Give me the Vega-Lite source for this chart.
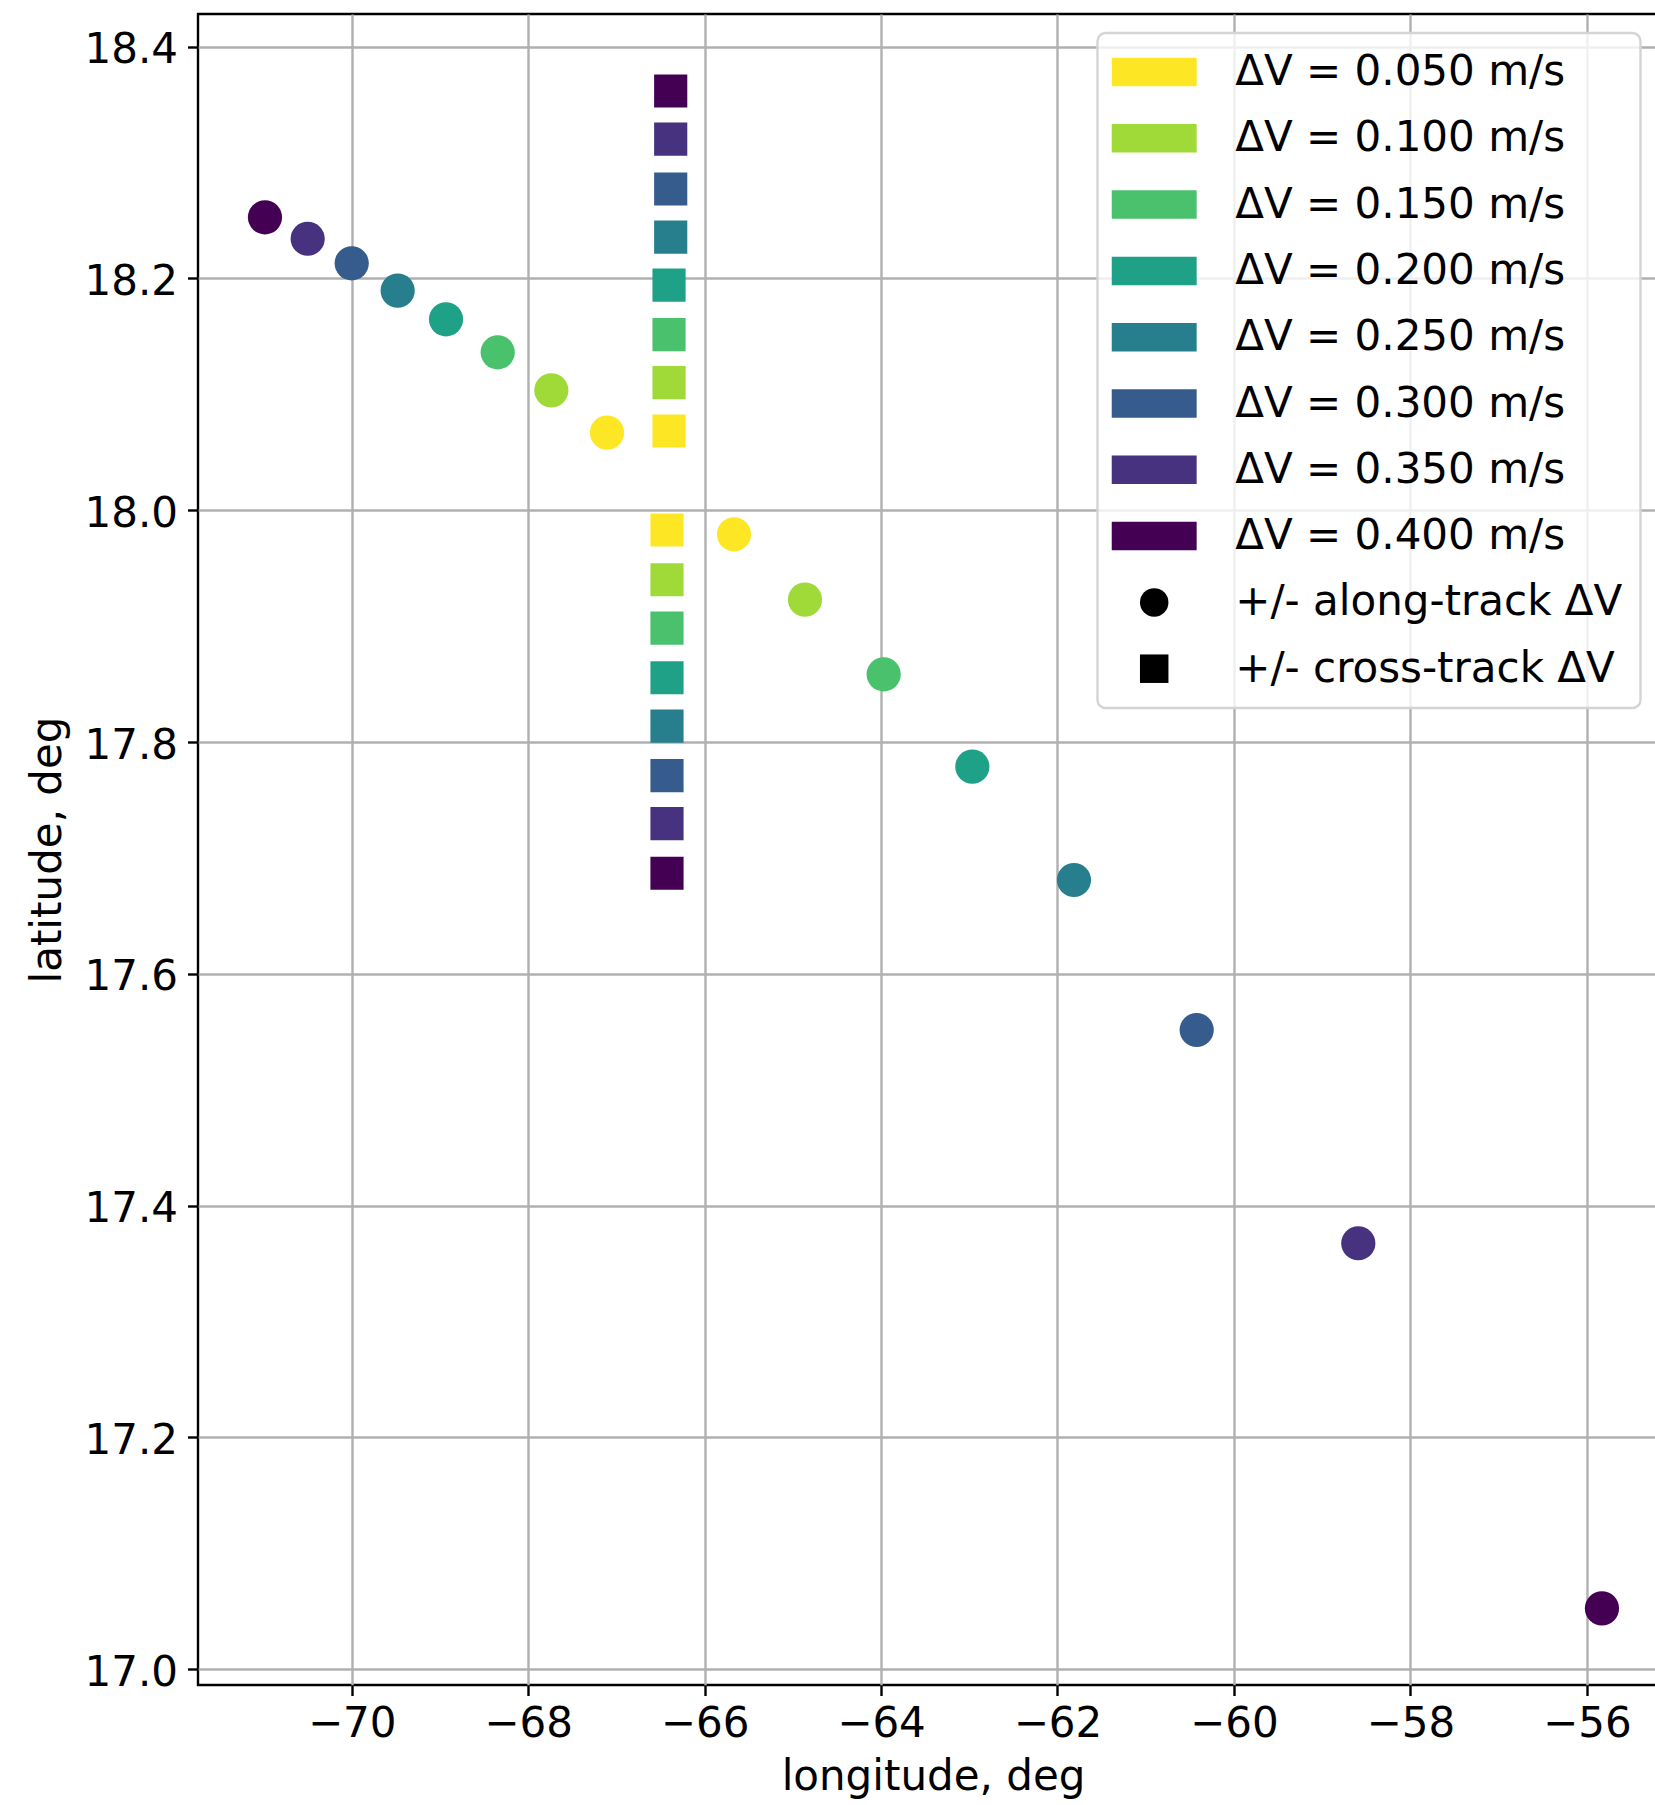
{
  "$schema": "https://vega.github.io/schema/vega-lite/v6.json",
  "autosize": {"type": "none"},
  "padding": {"left": 198, "top": 14, "right": -13, "bottom": 120},
  "width": 1470,
  "height": 1671,
  "background": "white",
  "config": {
    "font": "DejaVu Sans",
    "view": {"stroke": "black", "strokeWidth": 2.4},
    "axis": {
      "domain": false,
      "grid": true,
      "gridColor": "#b0b0b0",
      "gridWidth": 2.4,
      "ticks": true,
      "tickColor": "black",
      "tickWidth": 2.4,
      "tickSize": 10.5,
      "labelFont": "DejaVu Sans",
      "labelFontSize": 42,
      "labelColor": "black",
      "titleFont": "DejaVu Sans",
      "titleFontSize": 42,
      "titleFontWeight": "normal",
      "titleColor": "black"
    },
    "legend": {
      "orient": "none",
      "legendX": 899.5,
      "legendY": 19,
      "padding": 18,
      "rowPadding": 24.3,
      "symbolSize": 812.25,
      "symbolOffset": 17.7,
      "symbolStrokeWidth": 0,
      "symbolOpacity": 1,
      "labelOffset": 60,
      "labelFont": "DejaVu Sans",
      "labelFontSize": 42,
      "labelColor": "black",
      "labelLimit": 1000,
      "fillColor": "rgba(255,255,255,0.8)",
      "strokeColor": "#d4d4d4",
      "strokeWidth": 2.4,
      "cornerRadius": 8
    }
  },
  "data": {
    "values": [
      {"kind": "+/- along-track ΔV", "dv": "ΔV = 0.400 m/s", "lon": -70.983, "lat": 18.2528},
      {"kind": "+/- along-track ΔV", "dv": "ΔV = 0.350 m/s", "lon": -70.499, "lat": 18.2343},
      {"kind": "+/- along-track ΔV", "dv": "ΔV = 0.300 m/s", "lon": -70.0, "lat": 18.2131},
      {"kind": "+/- along-track ΔV", "dv": "ΔV = 0.250 m/s", "lon": -69.479, "lat": 18.1895},
      {"kind": "+/- along-track ΔV", "dv": "ΔV = 0.200 m/s", "lon": -68.931, "lat": 18.1648},
      {"kind": "+/- along-track ΔV", "dv": "ΔV = 0.150 m/s", "lon": -68.345, "lat": 18.1363},
      {"kind": "+/- along-track ΔV", "dv": "ΔV = 0.100 m/s", "lon": -67.737, "lat": 18.1035},
      {"kind": "+/- along-track ΔV", "dv": "ΔV = 0.050 m/s", "lon": -67.106, "lat": 18.067},
      {"kind": "+/- along-track ΔV", "dv": "ΔV = 0.050 m/s", "lon": -65.667, "lat": 17.9793},
      {"kind": "+/- along-track ΔV", "dv": "ΔV = 0.100 m/s", "lon": -64.862, "lat": 17.9229},
      {"kind": "+/- along-track ΔV", "dv": "ΔV = 0.150 m/s", "lon": -63.97, "lat": 17.8585},
      {"kind": "+/- along-track ΔV", "dv": "ΔV = 0.200 m/s", "lon": -62.965, "lat": 17.7788},
      {"kind": "+/- along-track ΔV", "dv": "ΔV = 0.250 m/s", "lon": -61.813, "lat": 17.681},
      {"kind": "+/- along-track ΔV", "dv": "ΔV = 0.300 m/s", "lon": -60.422, "lat": 17.5516},
      {"kind": "+/- along-track ΔV", "dv": "ΔV = 0.350 m/s", "lon": -58.59, "lat": 17.3676},
      {"kind": "+/- along-track ΔV", "dv": "ΔV = 0.400 m/s", "lon": -55.828, "lat": 17.0526},
      {"kind": "+/- cross-track ΔV", "dv": "ΔV = 0.050 m/s", "lon": -66.403, "lat": 18.0684},
      {"kind": "+/- cross-track ΔV", "dv": "ΔV = 0.100 m/s", "lon": -66.403, "lat": 18.1102},
      {"kind": "+/- cross-track ΔV", "dv": "ΔV = 0.150 m/s", "lon": -66.403, "lat": 18.1516},
      {"kind": "+/- cross-track ΔV", "dv": "ΔV = 0.200 m/s", "lon": -66.403, "lat": 18.1943},
      {"kind": "+/- cross-track ΔV", "dv": "ΔV = 0.250 m/s", "lon": -66.384, "lat": 18.2357},
      {"kind": "+/- cross-track ΔV", "dv": "ΔV = 0.300 m/s", "lon": -66.384, "lat": 18.2772},
      {"kind": "+/- cross-track ΔV", "dv": "ΔV = 0.350 m/s", "lon": -66.384, "lat": 18.3203},
      {"kind": "+/- cross-track ΔV", "dv": "ΔV = 0.400 m/s", "lon": -66.384, "lat": 18.3618},
      {"kind": "+/- cross-track ΔV", "dv": "ΔV = 0.050 m/s", "lon": -66.426, "lat": 17.983},
      {"kind": "+/- cross-track ΔV", "dv": "ΔV = 0.100 m/s", "lon": -66.426, "lat": 17.9401},
      {"kind": "+/- cross-track ΔV", "dv": "ΔV = 0.150 m/s", "lon": -66.426, "lat": 17.8984},
      {"kind": "+/- cross-track ΔV", "dv": "ΔV = 0.200 m/s", "lon": -66.426, "lat": 17.8555},
      {"kind": "+/- cross-track ΔV", "dv": "ΔV = 0.250 m/s", "lon": -66.426, "lat": 17.8138},
      {"kind": "+/- cross-track ΔV", "dv": "ΔV = 0.300 m/s", "lon": -66.426, "lat": 17.771},
      {"kind": "+/- cross-track ΔV", "dv": "ΔV = 0.350 m/s", "lon": -66.426, "lat": 17.7296},
      {"kind": "+/- cross-track ΔV", "dv": "ΔV = 0.400 m/s", "lon": -66.426, "lat": 17.6868}
    ]
  },
  "encoding": {
    "x": {
      "field": "lon",
      "type": "quantitative",
      "title": "longitude, deg",
      "scale": {"domain": [-71.7422, -55.0794], "nice": false, "zero": false},
      "axis": {
        "values": [-70, -68, -66, -64, -62, -60, -58, -56],
        "format": "d",
        "labelPadding": 8,
        "titlePadding": 12
      }
    },
    "y": {
      "field": "lat",
      "type": "quantitative",
      "title": "latitude, deg",
      "scale": {"domain": [16.98645, 18.4282], "nice": false, "zero": false},
      "axis": {
        "values": [17.0, 17.2, 17.4, 17.6, 17.8, 18.0, 18.2, 18.4],
        "format": ".1f",
        "labelPadding": 10,
        "labelOffset": 3,
        "titlePadding": 14
      }
    },
    "color": {
      "field": "dv",
      "type": "nominal",
      "scale": {
        "domain": [
          "ΔV = 0.050 m/s", "ΔV = 0.100 m/s", "ΔV = 0.150 m/s", "ΔV = 0.200 m/s",
          "ΔV = 0.250 m/s", "ΔV = 0.300 m/s", "ΔV = 0.350 m/s", "ΔV = 0.400 m/s",
          "+/- along-track ΔV", "+/- cross-track ΔV"
        ],
        "range": [
          "#fde725", "#a0da39", "#4ac16d", "#1fa187",
          "#277f8e", "#365c8d", "#46327e", "#440154",
          "black", "black"
        ]
      },
      "legend": {"title": null}
    },
    "shape": {
      "field": "kind",
      "type": "nominal",
      "scale": {
        "domain": [
          "ΔV = 0.050 m/s", "ΔV = 0.100 m/s", "ΔV = 0.150 m/s", "ΔV = 0.200 m/s",
          "ΔV = 0.250 m/s", "ΔV = 0.300 m/s", "ΔV = 0.350 m/s", "ΔV = 0.400 m/s",
          "+/- along-track ΔV", "+/- cross-track ΔV"
        ],
        "range": [
          "M-2.98,-1H2.98V1H-2.98Z", "M-2.98,-1H2.98V1H-2.98Z",
          "M-2.98,-1H2.98V1H-2.98Z", "M-2.98,-1H2.98V1H-2.98Z",
          "M-2.98,-1H2.98V1H-2.98Z", "M-2.98,-1H2.98V1H-2.98Z",
          "M-2.98,-1H2.98V1H-2.98Z", "M-2.98,-1H2.98V1H-2.98Z",
          "circle", "square"
        ]
      },
      "legend": {"title": null}
    }
  },
  "layer": [
    {
      "transform": [{"filter": "datum.kind === '+/- along-track ΔV'"}],
      "mark": {"type": "point", "filled": true, "opacity": 1, "size": 1170, "strokeWidth": 0}
    },
    {
      "transform": [{"filter": "datum.kind === '+/- cross-track ΔV'"}],
      "mark": {"type": "point", "filled": true, "opacity": 1, "size": 1100, "strokeWidth": 0}
    }
  ]
}
